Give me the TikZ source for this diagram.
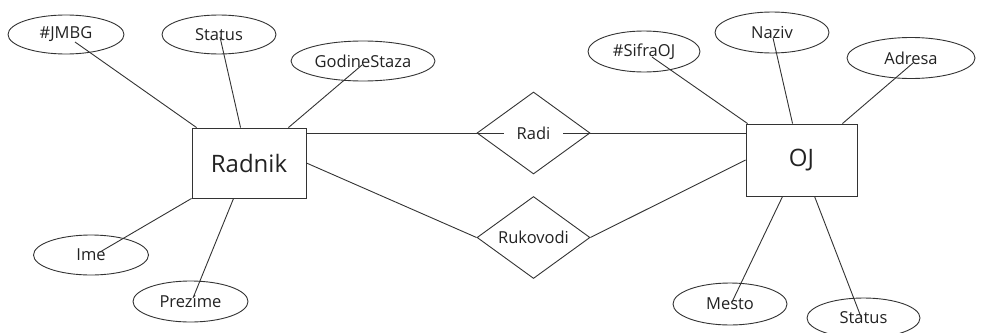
\documentclass[tikz,border=0pt]{standalone}
\usepackage{fontspec}
\setmainfont{Open Sans}
\usetikzlibrary{shapes.geometric}
\definecolor{inkline}{HTML}{333333}
\definecolor{inktext}{HTML}{222222}
\tikzset{
  attr/.style 2 args={ellipse, draw=inkline, line width=0.9pt, inner sep=0pt,
    minimum width=#1pt, minimum height=#2pt, text=inktext,
    font=\fontsize{16.5}{20}\selectfont},
  entity/.style 2 args={rectangle, draw=inkline, line width=0.9pt, inner sep=0pt,
    minimum width=#1pt, minimum height=#2pt, text=inktext,
    font=\fontsize{24}{28}\selectfont},
  relbox/.style={diamond, draw=inkline, line width=0.9pt, inner sep=0pt, aspect=1.38,
    minimum width=113pt, minimum height=82pt},
  rellabel/.style={fill=white, inner xsep=13pt, inner ysep=2pt, text=inktext,
    font=\fontsize{16.5}{20}\selectfont},
  link/.style={draw=inkline, line width=0.9pt}
}
\begin{document}
\begin{tikzpicture}[x=1pt, y=-1pt]
\useasboundingbox (0,0) rectangle (981,332);

% entities
\node[entity={114}{70}] (radnik) at (249,163) {Radnik};
\node[entity={111}{72}] (oj) at (801.5,160) {OJ};

% relationships
\node[relbox] (radi) at (533.5,133) {};
\node[relbox] (ruk) at (533.5,237.5) {};

% attributes of Radnik
\node[attr={116}{39}] (jmbg) at (66,34.5) {\#JMBG};
\node[attr={114}{39}] (statusr) at (219,34.5) {Status};
\node[attr={144}{40}] (godine) at (363,61) {GodineStaza};
\node[attr={115}{40}] (ime) at (91,255) {Ime};
\node[attr={115}{41}] (prezime) at (190.5,301.5) {Prezime};

% attributes of OJ
\node[attr={112}{41}] (sifra) at (644,51.5) {\#SifraOJ};
\node[attr={114}{41}] (naziv) at (772,32.5) {Naziv};
\node[attr={128}{41}] (adresa) at (911,58) {Adresa};
\node[attr={114}{42}] (mesto) at (730,304) {Mesto};
\node[attr={113}{40}] (statuso) at (863.5,318) {Status};

% relationship lines
\path[link] (radnik.east |- radi) -- (oj.west |- radi);
\node[rellabel] (radilbl) at (radi) {Radi};
\path[link] (radnik.east) -- (ruk.west);
\path[link] (ruk.east) -- (oj.west);
\node[rellabel, fill=none, inner xsep=2pt] (ruklbl) at (ruk) {Rukovodi};

% attribute lines of Radnik
\path[link] ([xshift=5pt]radnik.north west) -- ([shift={(9,7.5)}]jmbg.center);
\path[link] ([xshift=49pt]radnik.north west) -- ([shift={(1,2.5)}]statusr.center);
\path[link] ([xshift=-18pt]radnik.north east) -- ([shift={(-1,4)}]godine.center);
\path[link] (radnik.south west) -- ([shift={(9,-3)}]ime.center);
\path[link] ([xshift=42pt]radnik.south west) -- ([shift={(2.5,-3.5)}]prezime.center);

% attribute lines of OJ
\path[link] ([xshift=2pt]oj.north west) -- ([shift={(8,5.5)}]sifra.center);
\path[link] ([xshift=47pt]oj.north west) -- ([shift={(1,5.5)}]naziv.center);
\path[link] ([xshift=-15pt]oj.north east) -- ([shift={(2,5)}]adresa.center);
\path[link] ([xshift=37pt]oj.south west) -- ([shift={(2,-2)}]mesto.center);
\path[link] ([xshift=69pt]oj.south west) -- ([shift={(-2.5,-1)}]statuso.center);
\end{tikzpicture}
\end{document}
